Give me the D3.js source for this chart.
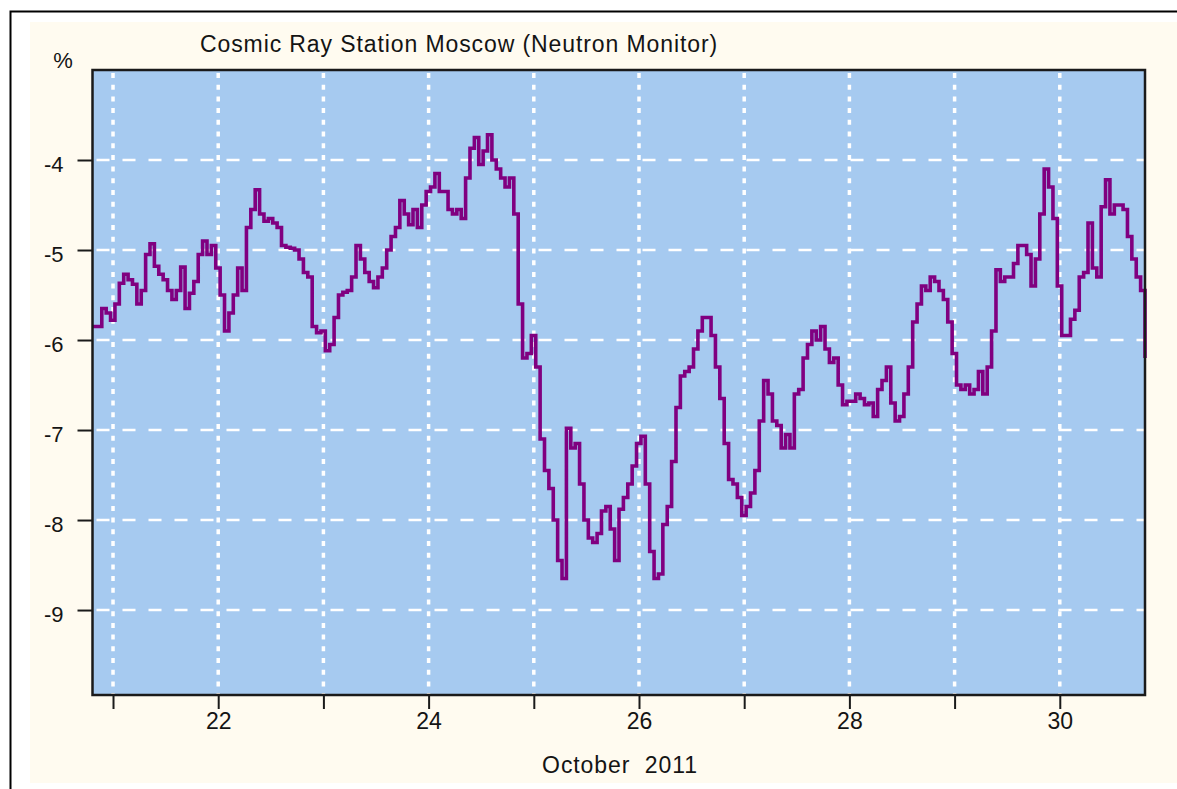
<!DOCTYPE html>
<html>
<head>
<meta charset="utf-8">
<script src="https://cdn.jsdelivr.net/npm/d3@7"></script>
<style>
  html, body { margin: 0; padding: 0; background: #ffffff; }
  svg { display: block; }
  text { font-family: "Liberation Sans", Arial, sans-serif; fill: #141414; }
</style>
</head>
<body>
<div id="chart"></div>
<script>
// hourly neutron monitor variation, %, starting Oct 20 ~19:30
const startDay = 20.81;
const values = [
  -5.85, -5.85, -5.65, -5.7, -5.78, -5.6, -5.37, -5.27, -5.33, -5.38,
  -5.6, -5.45, -5.05, -4.93, -5.18, -5.27, -5.33, -5.45, -5.55, -5.45,
  -5.19, -5.65, -5.48, -5.35, -5.05, -4.9, -5.05, -4.95, -5.2, -5.5,
  -5.9, -5.7, -5.5, -5.2, -5.45, -4.75, -4.55, -4.33, -4.6, -4.68,
  -4.65,
  -4.7, -4.75, -4.95, -4.97, -4.98, -5.0, -5.1, -5.25, -5.3, -5.85,
  -5.92, -5.9, -6.12, -6.05, -5.75, -5.5, -5.47, -5.45, -5.3, -4.95,
  -5.1, -5.25, -5.35, -5.42, -5.3, -5.2, -5.0, -4.85, -4.75, -4.45,
  -4.6, -4.72, -4.55, -4.75, -4.5, -4.35, -4.3, -4.15, -4.35, -4.35,
  -4.55, -4.6, -4.55, -4.65, -4.2, -3.87, -3.75, -4.05, -3.9, -3.72,
  -4.0, -4.1, -4.2, -4.3, -4.2, -4.6, -5.6, -6.2, -6.15, -5.95,
  -6.3, -7.1, -7.45, -7.65, -8.0, -8.45, -8.65, -6.98, -7.2, -7.15,
  -7.6, -8.0, -8.2, -8.25, -8.15, -7.9, -7.85, -8.1, -8.45, -7.88,
  -7.75, -7.6, -7.4, -7.15, -7.07, -7.6, -8.35, -8.65, -8.6, -8.05,
  -7.85, -7.35, -6.75, -6.4, -6.35, -6.3, -6.1, -5.9, -5.75, -5.75,
  -5.95, -6.3, -6.65, -7.15, -7.55, -7.6, -7.75, -7.95, -7.85, -7.7,
  -7.45, -6.9, -6.45, -6.6, -6.9, -6.95, -7.2, -7.05, -7.2, -6.6,
  -6.55, -6.2, -6.05, -5.9, -6.0, -5.85, -6.1, -6.25, -6.2, -6.5,
  -6.72, -6.68, -6.68, -6.6, -6.65, -6.72, -6.7, -6.85, -6.55, -6.45,
  -6.3, -6.7, -6.9, -6.85, -6.6, -6.3, -5.8, -5.6, -5.4, -5.45,
  -5.3, -5.35, -5.45, -5.55, -5.8, -6.15, -6.5, -6.55, -6.5, -6.6,
  -6.55, -6.35, -6.6, -6.3, -5.9, -5.22, -5.35, -5.3, -5.3, -5.15,
  -4.95, -4.95, -5.05, -5.4, -5.1, -4.6, -4.1, -4.3, -4.65, -5.4,
  -5.95, -5.95, -5.77, -5.67, -5.3, -5.25, -4.7, -5.2, -5.3, -4.52,
  -4.22, -4.6, -4.5, -4.5, -4.55, -4.85, -5.1, -5.3, -5.45, -6.2
];
const dayTicks = [21, 22, 23, 24, 25, 26, 27, 28, 29, 30];
const dayLabels = [22, 24, 26, 28, 30];
const yTicks = [-4, -5, -6, -7, -8, -9];

const title = "Cosmic Ray Station Moscow (Neutron Monitor)";
const xTitle = "October\u00a0\u00a02011";
const yUnit = "%";

const W = 1177, H = 789;
const plot = { left: 92.5, top: 70, right: 1145, bottom: 695 };

const points = values.map((v, i) => ({ t: startDay + i / 24, v }));

const x = d3.scaleLinear()
  .domain([20.805, 30.81])
  .range([plot.left, plot.right]);
const y = d3.scaleLinear()
  .domain([-9.944, -3.0])
  .range([plot.bottom, plot.top]);

const svg = d3.select("#chart").append("svg")
  .attr("width", W)
  .attr("height", H);

// frame + cream panel
svg.append("rect")
  .attr("x", 30).attr("y", 22)
  .attr("width", W - 30).attr("height", 761)
  .attr("fill", "#fffbf0");
svg.append("path")
  .attr("d", `M10.5,${H} V11.5 H${W}`)
  .attr("fill", "none")
  .attr("stroke", "#000")
  .attr("stroke-width", 2);

// plot background
svg.append("rect")
  .attr("x", plot.left).attr("y", plot.top)
  .attr("width", plot.right - plot.left)
  .attr("height", plot.bottom - plot.top)
  .attr("fill", "#a6caf0");

// grid
const grid = svg.append("g");
grid.selectAll("line.v")
  .data(dayTicks)
  .join("line")
  .attr("class", "v")
  .attr("x1", d => x(d)).attr("x2", d => x(d))
  .attr("y1", plot.top + 3).attr("y2", plot.bottom)
  .attr("stroke", "#ffffff")
  .attr("stroke-width", 3.5)
  .attr("stroke-dasharray", "5,6.7");
grid.selectAll("line.h")
  .data(yTicks)
  .join("line")
  .attr("class", "h")
  .attr("x1", plot.left).attr("x2", plot.right)
  .attr("y1", d => y(d)).attr("y2", d => y(d))
  .attr("stroke", "#ffffff")
  .attr("stroke-width", 2.5)
  .attr("stroke-dasharray", "13,13")
  .attr("stroke-dashoffset", -4);

// series
const line = d3.line()
  .x(d => x(d.t))
  .y(d => y(d.v))
  .curve(d3.curveStepAfter);
svg.append("path")
  .datum(points)
  .attr("d", line)
  .attr("fill", "none")
  .attr("stroke", "#800080")
  .attr("stroke-width", 3.6);

// plot border
svg.append("rect")
  .attr("x", plot.left).attr("y", plot.top)
  .attr("width", plot.right - plot.left)
  .attr("height", plot.bottom - plot.top)
  .attr("fill", "none")
  .attr("stroke", "#1a1a1a")
  .attr("stroke-width", 2.5);

// axes
const xAxis = svg.append("g")
  .attr("transform", `translate(0,${plot.bottom})`)
  .call(d3.axisBottom(x)
    .tickValues(dayTicks)
    .tickSize(14)
    .tickPadding(4)
    .tickFormat(d => dayLabels.includes(d) ? d : ""));
xAxis.select(".domain").remove();
xAxis.selectAll(".tick line").attr("stroke", "#1a1a1a").attr("stroke-width", 2);
xAxis.selectAll(".tick text")
  .attr("font-size", 23)
  .attr("font-family", "Liberation Sans, Arial, sans-serif")
  .attr("fill", "#141414");

const yAxis = svg.append("g")
  .attr("transform", `translate(${plot.left},0)`)
  .call(d3.axisLeft(y)
    .tickValues(yTicks)
    .tickSize(15)
    .tickPadding(14)
    .tickFormat(d => d));
yAxis.select(".domain").remove();
yAxis.selectAll(".tick line").attr("stroke", "#1a1a1a").attr("stroke-width", 2);
yAxis.selectAll(".tick text")
  .attr("font-size", 22)
  .attr("dy", "0.5em")
  .attr("font-family", "Liberation Sans, Arial, sans-serif")
  .attr("fill", "#141414");

// texts
svg.append("text")
  .attr("x", 200).attr("y", 52)
  .attr("font-size", 23)
  .attr("letter-spacing", 0.9)
  .text(title);
svg.append("text")
  .attr("x", 620).attr("y", 773)
  .attr("text-anchor", "middle")
  .attr("font-size", 23)
  .attr("letter-spacing", 0.9)
  .text(xTitle);
svg.append("text")
  .attr("x", 63).attr("y", 68)
  .attr("text-anchor", "middle")
  .attr("font-size", 22)
  .text(yUnit);
</script>
</body>
</html>
